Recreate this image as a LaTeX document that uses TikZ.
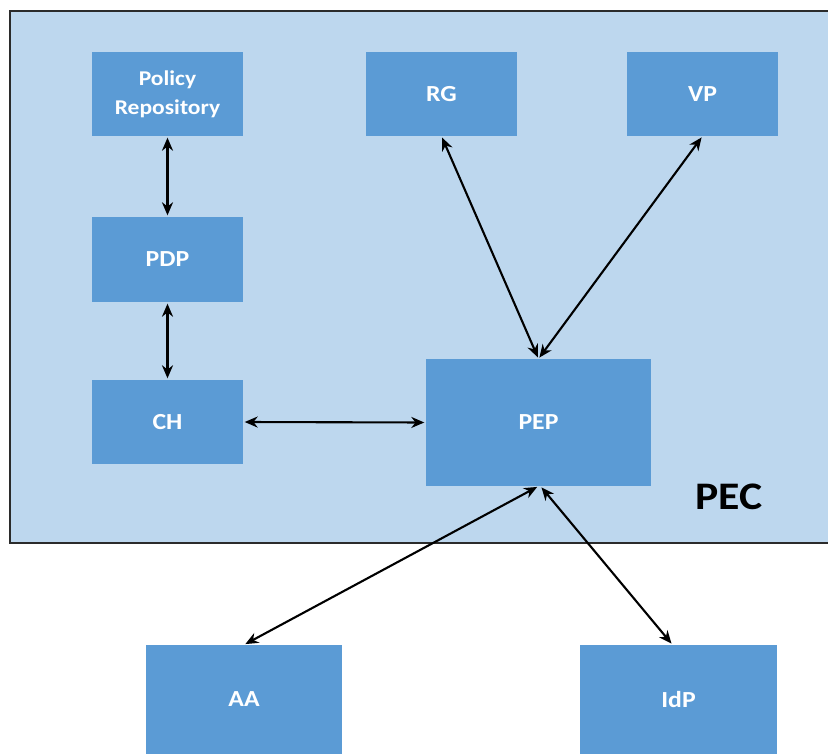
\documentclass[tikz,border=0pt]{standalone}
\usepackage{fontspec}
\setmainfont{Carlito}[FakeStretch=1.12]
\usetikzlibrary{arrows.meta}
\definecolor{pecbg}{HTML}{BDD7EE}
\definecolor{boxblue}{HTML}{5B9BD5}
\definecolor{frame}{HTML}{2B2B2B}
\tikzset{
  blk/.style={rectangle, fill=boxblue, text=white, font=\bfseries\fontsize{23}{25}\selectfont, inner sep=0pt, align=center},
  link/.style={{Stealth[length=13pt,width=11pt]}-{Stealth[length=13pt,width=11pt]}, line width=2.1pt, black, shorten <=1.5pt, shorten >=1.5pt}
}
\begin{document}
\begin{tikzpicture}[x=1pt,y=-1pt]
\useasboundingbox (0,0) rectangle (828,754);
\fill[white] (0,0) rectangle (828,754);
% PEC container
\fill[pecbg] (10,11) rectangle (828,543);
\draw[frame, line width=1.6pt] (828,11) -- (10,11) -- (10,543) -- (828,543);
\node[font=\bfseries\fontsize{39}{41}\selectfont, anchor=west] (pec) at (692,497) {PEC};
% blocks
\node[blk, minimum width=151pt, minimum height=84pt, font=\bfseries\fontsize{21}{29}\selectfont] (pr) at (167.5,94) {Policy\\Repository};
\node[blk, minimum width=151pt, minimum height=85pt] (pdp) at (167.5,259.5) {PDP};
\node[blk, minimum width=151pt, minimum height=84pt] (ch) at (167.5,422) {CH};
\node[blk, minimum width=151pt, minimum height=84pt] (rg) at (441.5,94) {RG};
\node[blk, minimum width=151pt, minimum height=84pt] (vp) at (702.5,94) {VP};
\node[blk, minimum width=225pt, minimum height=127pt] (pep) at (538.5,422.5) {PEP};
\node[blk, minimum width=196pt, minimum height=109pt] (aa) at (244,699.5) {AA};
\node[blk, minimum width=197pt, minimum height=109pt] (idp) at (678.5,699.5) {IdP};
% connectors
\draw[link] (pr.south) -- (pdp.north);
\draw[link] (pdp.south) -- (ch.north);
\draw[link] (ch.east) -- (pep.west);
\draw[link] (rg.south) -- (pep.north);
\draw[link] (vp.south) -- (pep.north);
\draw[link] (pep.south) -- (aa.north);
\draw[link] ([xshift=2pt]pep.south) -- ([xshift=-6pt]idp.north);
\end{tikzpicture}
\end{document}
